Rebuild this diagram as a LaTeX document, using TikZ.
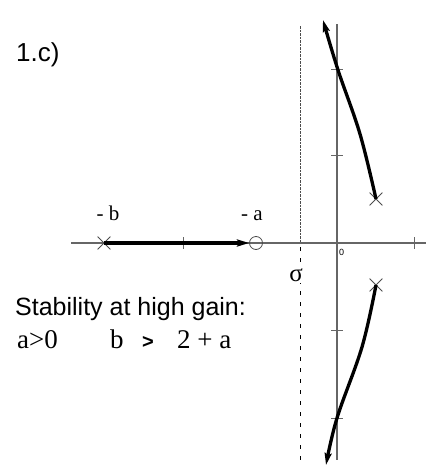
\documentclass[tikz,border=0pt]{standalone}
\usepackage{fontspec}
\setmainfont{Liberation Serif}
\setsansfont{Liberation Sans}
\usetikzlibrary{arrows.meta, positioning, shapes.misc}

\begin{document}
\begin{tikzpicture}[x=1pt, y=-1pt,
    axis/.style={draw=black!60, line width=1.3pt},
    tick/.style={draw=black!60, line width=1pt},
    locus/.style={line width=3.3pt, -{Stealth[length=12pt, width=7pt, inset=2pt]}},
    pole/.style={cross out, draw=black!70, line width=0.8pt, minimum size=12pt, inner sep=0pt},
    zero/.style={circle, draw=black!70, line width=0.8pt, minimum size=13pt, inner sep=0pt},
    lbl/.style={font=\fontsize{21}{21}\selectfont, inner sep=0pt},
    txt/.style={font=\sffamily\fontsize{25}{25}\selectfont, inner sep=0pt, anchor=base west},
    cond/.style={font=\fontsize{27}{27}\selectfont, inner sep=0pt, anchor=base west}
  ]
  \useasboundingbox (0,0) rectangle (426,472);

  % axes and ticks
  \draw[axis] (71,243) -- (426,243);
  \draw[axis] (337,24) -- (337,460);
  \foreach \x in {183,414}
    \draw[tick] (\x,237) -- (\x,249);
  \foreach \y in {69,155,330,418}
    \draw[tick] (331,\y) -- (343,\y);
  \node[font=\sffamily\fontsize{9}{9}\selectfont, anchor=north west, inner sep=0pt] (orig) at (339,249) {0};

  % asymptote
  \draw[black!70, line width=1pt, dash pattern=on 2.5pt off 1pt] (300,26) -- (300,243);
  \draw[line width=1pt, dash pattern=on 4pt off 7pt] (300,247) -- (300,460);
  \node[fill=white, inner sep=1pt, font=\fontsize{25}{25}\selectfont] (sigma) at (296,275) {σ};

  % poles and zero
  \node[pole] (p1) at (376,199) {};
  \node[pole] (p2) at (376,285) {};
  \node[pole] (p3) at (104,243) {};
  \node[zero] (z1) at (256,243) {};
  \node[lbl, anchor=base] (lb) at (108,220) {- b};
  \node[lbl, anchor=base] (la) at (252,220) {- a};

  \coordinate (up) at (323,20);
  \coordinate (down) at (326,465);

  % root locus branches
  \draw[locus] (p3.center) -- (z1.west);
  \draw[locus] plot[smooth, tension=0.6] coordinates {(p1.center) (360,134) (338,70) (up)};
  \draw[locus] plot[smooth, tension=0.6] coordinates {(p2.center) (362,347) (337,418) (down)};

  % text
  \node[txt, font=\sffamily\fontsize{26}{26}\selectfont] (title) at (16,61) {1.c)};
  \node[txt] (stab) at (15,315) {Stability at high gain:};
  \node[cond] (c1) at (17,348) {a>0};
  \node[cond] (c2) at (110,348) {b};
  \node[cond, font=\sffamily\bfseries\fontsize{20}{20}\selectfont] (gt) at (142,348) {>};
  \node[cond] (c3) at (177,348) {2 + a};
\end{tikzpicture}
\end{document}
